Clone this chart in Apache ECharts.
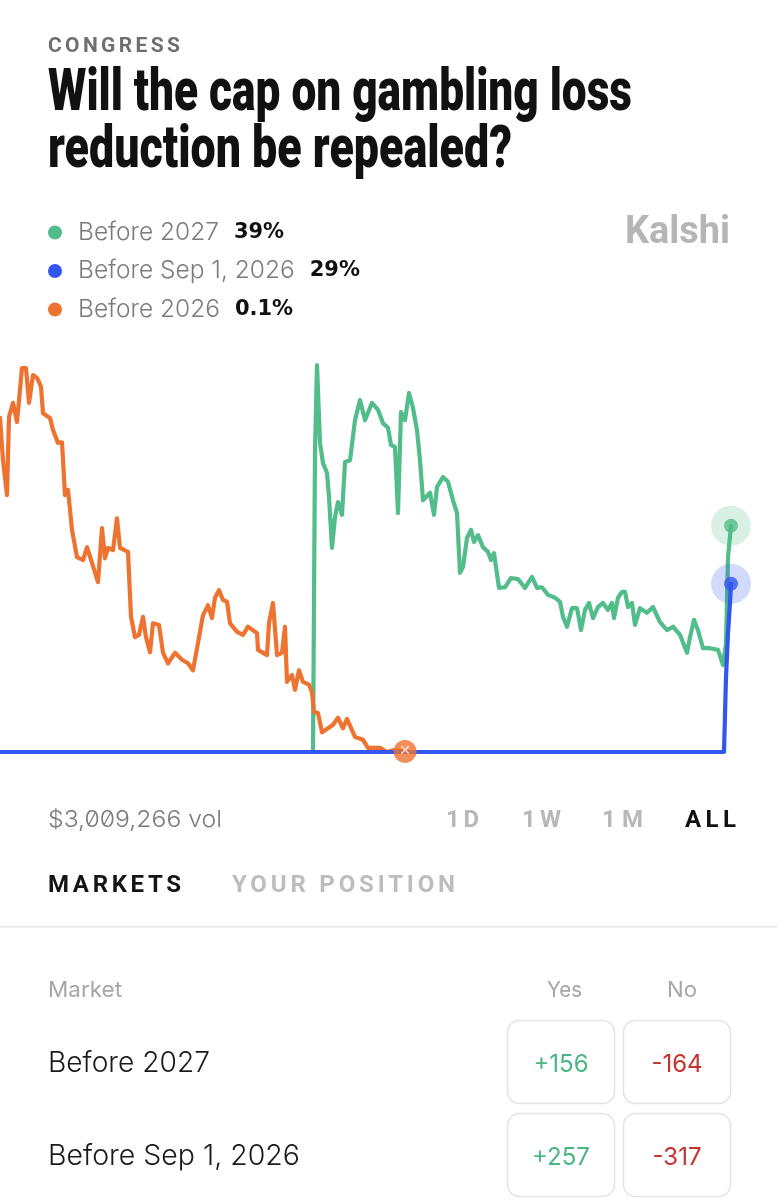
<!DOCTYPE html>
<html><head><meta charset="utf-8">
<script src="https://cdn.jsdelivr.net/npm/echarts@6/dist/echarts.min.js"></script>
<style>
html,body{margin:0;padding:0;background:#fff;}
#wrap{position:relative;width:777px;height:1200px;overflow:hidden;background:#fff;}
#chart{position:absolute;left:0;top:0;width:777px;height:1200px;}
#ui{position:absolute;left:0;top:0;pointer-events:none;}
</style></head><body>
<div id="wrap"><div id="chart"></div>
<svg id="ui" width="777" height="1200" xmlns="http://www.w3.org/2000/svg"></svg></div>
<script>
// ---------- data ----------
const seriesNames = ['Before 2027', 'Before Sep 1, 2026', 'Before 2026'];
const seriesColors = ['#52bd8a', '#3256ee', '#ef7330'];

const before2027Days = [0,313,315,317,320,323,327,329,332,335,338,342,345,350,355,360,365,372,378,383,388,391,395,398,401,405,409,413,417,420,423,430,434,437,443,448,453,457,460,463,467,471,474,478,483,488,491,494,499,505,511,518,525,532,537,542,548,555,560,563,567,572,577,581,585,589,593,598,603,608,612,614,618,622,625,628,632,635,640,647,653,660,667,673,680,687,690,694,698,703,710,718,723,726,728,731];
const before2027Prices = [0,0,52,66.7,53.3,49.8,48.1,44,35.2,40.5,43.1,40.9,50,50.3,57.2,60.7,57.2,60.2,59,56.7,55.9,52.9,52.6,41.2,58.6,57.2,61.9,59.3,55.5,50.3,43.4,44.7,40.9,45.7,47.4,46.6,43.4,41.2,30.9,31.9,36.9,38.3,36.2,37.4,35.3,34.5,33.1,34.3,28.3,28.4,30,29.8,28.3,30.2,28.3,28.4,27.1,26.6,25.9,23.3,21.6,24.8,24.8,21,24.5,25.7,23.1,25,25.7,24.5,25.7,23.1,26.6,27.6,27.6,25,25.7,21.9,24.8,24,25,22.4,21,21.6,20.2,17.1,19.8,22.8,21,17.9,17.9,17.6,15,18.8,33.6,39];

const beforeSep2026Days = [0,724,726,728,730,731];
const beforeSep2026Prices = [0,0,12.9,20.5,25.7,29];

const before2026Days = [0,3,7,9,13,17,22,26,29,33,37,41,43,50,53,58,62,65,68,72,77,83,87,92,98,102,105,108,113,117,120,128,131,135,139,143,146,150,153,159,163,168,175,182,188,193,198,203,208,212,215,219,223,227,230,237,243,248,257,258,267,269,273,277,282,285,287,292,295,299,303,309,312,314,318,322,328,333,338,343,347,355,363,368,380,387,393,405];
const before2026Prices = [57.6,50.3,44.3,57.8,60.2,56.9,66.2,66.2,60.2,65,64.5,63,58.4,57.6,55.5,53.3,53.4,44.3,45.2,38.3,33.6,33.1,35.3,32.6,29.3,38.6,33.4,35.2,34.8,40.3,35.2,34.5,23.3,19.8,20.2,23.3,19.8,17.2,22.2,21.9,17.1,15.3,17.1,15.9,15.3,14.1,18.8,23.6,25.3,23.1,26.6,27.9,26.2,25.9,22.2,20.7,20.2,21.6,20.5,17.6,16.7,22.2,25.7,16.7,17.1,21.6,12.1,13.3,10.7,14.1,12.1,11.6,10.3,6.9,6.7,3.4,4.1,4.7,5.9,4.1,5.7,2.6,2.1,0.7,0.7,0,0.3,0.1];

const volumeText = '$3,009,266 vol';
const rangeButtons = ['1D', '1W', '1M', 'ALL'];
const marketRows = ['Before 2027', 'Before Sep 1, 2026'];
const yesPayouts = ['+156', '+257'];
const noPayouts = ['-164', '-317'];

// ---------- chart ----------
const pairs = (d, v) => d.map((x, i) => [x, v[i]]);
const last = a => a[a.length - 1];
const allDays = [before2027Days, beforeSep2026Days, before2026Days];
const allPrices = [before2027Prices, beforeSep2026Prices, before2026Prices];
const lastPrice = {};
seriesNames.forEach((n, i) => lastPrice[n] = last(allPrices[i]));

const chart = echarts.init(document.getElementById('chart'), null, {renderer: 'canvas', width: 777, height: 1200});

const lineSeries = (i, z) => ({
  name: seriesNames[i], type: 'line', data: pairs(allDays[i], allPrices[i]),
  showSymbol: false, symbol: 'none', clip: false, z: z, silent: true,
  lineStyle: {width: 4.2, color: seriesColors[i], cap: 'round', join: 'round'},
  itemStyle: {color: seriesColors[i]}
});

const option = {
  animation: false,
  backgroundColor: '#ffffff',
  color: seriesColors,
  grid: {left: 0, right: 46, top: 346, height: 406},
  xAxis: {type: 'value', min: 0, max: 731, show: false},
  yAxis: {type: 'value', min: 0, max: 70, show: false},
  legend: {
    data: seriesNames, orient: 'vertical', left: 48, top: 220, padding: 0,
    icon: 'circle', itemWidth: 14, itemHeight: 14, itemGap: 13.5, selectedMode: false,
    formatter: name => `{n|${name}}{v|${lastPrice[name]}%}`,
    textStyle: {rich: {
      n: {fontFamily: 'Inter', fontWeight: 300, fontSize: 24.5, color: '#7b7b7b', lineHeight: 26, padding: [0, 0, 0, 11]},
      v: {fontFamily: 'DejaVu Sans', fontWeight: 'bold', fontSize: 21, color: '#111', lineHeight: 26, padding: [0, 0, 0, 15]}
    }}
  },
  series: [
    lineSeries(0, 2),
    lineSeries(2, 3),
    lineSeries(1, 4),
    {
      name: 'halo', type: 'scatter', z: 5, silent: true, symbolSize: 40,
      data: [0, 1].map(i => ({value: [last(allDays[i]), last(allPrices[i])], itemStyle: {color: seriesColors[i], opacity: 0.22}}))
    },
    {
      name: 'end', type: 'scatter', z: 6, silent: true, symbolSize: 14,
      data: [0, 1].map(i => ({value: [last(allDays[i]), last(allPrices[i])], itemStyle: {color: seriesColors[i]}}))
    },
    {
      name: 'settled', type: 'scatter', z: 6, silent: true, symbolSize: 23,
      data: [{value: [last(before2026Days), last(before2026Prices)], itemStyle: {color: seriesColors[2]}}],
      label: {show: true, position: 'inside', formatter: '✕', color: '#fff', fontSize: 14, fontFamily: 'DejaVu Sans'}
    }
  ]
};
chart.setOption(option);

// ---------- page chrome (SVG text) ----------
const svg = document.getElementById('ui');
const NS = 'http://www.w3.org/2000/svg';
function txt(s, a, style) {
  const t = document.createElementNS(NS, 'text');
  for (const k in a) t.setAttribute(k, a[k]);
  if (style) t.setAttribute('style', style);
  t.textContent = s; svg.appendChild(t); return t;
}
function rect(a) {
  const r = document.createElementNS(NS, 'rect');
  for (const k in a) r.setAttribute(k, a[k]);
  svg.appendChild(r);
}
const SG = 'spacingAndGlyphs';
txt('CONGRESS', {x: 48, y: 52, 'font-family': 'Roboto', 'font-weight': 700, 'font-size': 21, fill: '#6f6f6f', textLength: 132, lengthAdjust: 'spacing'});
txt('Will the cap on gambling loss', {x: 48, y: 110, 'font-family': 'Roboto', 'font-weight': 900, 'font-size': 59, fill: '#111', textLength: 584, lengthAdjust: SG});
txt('reduction be repealed?', {x: 48, y: 167, 'font-family': 'Roboto', 'font-weight': 900, 'font-size': 59, fill: '#111', textLength: 464, lengthAdjust: SG});
txt('Kalshi', {x: 625, y: 243, 'font-family': 'Roboto', 'font-weight': 700, 'font-size': 38, fill: '#b5b5b5', textLength: 105, lengthAdjust: SG});

txt(volumeText, {x: 48, y: 827, 'font-family': 'Inter', 'font-weight': 300, 'font-size': 23, fill: '#7a7a7a', textLength: 174, lengthAdjust: SG}, "font-feature-settings:'zero'");
const btnX = [446, 522, 602, 685], btnW = [33, 39, 41, 51];
rangeButtons.forEach((b, i) => txt(b, {x: btnX[i], y: 827, 'font-family': 'Roboto', 'font-weight': 700, 'font-size': 24, fill: i === 3 ? '#111' : '#b8b8b8', textLength: btnW[i], lengthAdjust: 'spacing'}));

txt('MARKETS', {x: 48, y: 892, 'font-family': 'Roboto', 'font-weight': 700, 'font-size': 24, fill: '#151515', textLength: 133, lengthAdjust: 'spacing'});
txt('YOUR POSITION', {x: 232, y: 892, 'font-family': 'Roboto', 'font-weight': 700, 'font-size': 24, fill: '#bdbdbd', textLength: 223, lengthAdjust: 'spacing'});
rect({x: 0, y: 926, width: 777, height: 1.5, fill: '#e6e6e6'});

txt('Market', {x: 48, y: 997, 'font-family': 'Inter', 'font-weight': 400, 'font-size': 22, fill: '#a6a6a6', textLength: 74, lengthAdjust: SG});
txt('Yes', {x: 547, y: 997, 'font-family': 'Inter', 'font-weight': 400, 'font-size': 22, fill: '#a6a6a6', textLength: 35, lengthAdjust: SG});
txt('No', {x: 667, y: 997, 'font-family': 'Inter', 'font-weight': 400, 'font-size': 22, fill: '#a6a6a6', textLength: 30, lengthAdjust: SG});

const rowLen = [162, 252];
marketRows.forEach((m, i) => {
  const base = 1072 + i * 93, top = 1020 + i * 93;
  txt(m, {x: 48, y: base, 'font-family': 'Inter', 'font-weight': 300, 'font-size': 28, fill: '#1a1a1a', textLength: rowLen[i], lengthAdjust: SG});
  rect({x: 507.5, y: top + 0.5, width: 107, height: 83, rx: 12, fill: 'none', stroke: '#e3e3e3', 'stroke-width': 1.5});
  rect({x: 623.5, y: top + 0.5, width: 107, height: 83, rx: 12, fill: 'none', stroke: '#e3e3e3', 'stroke-width': 1.5});
  txt(yesPayouts[i], {x: 561, y: base, 'text-anchor': 'middle', 'font-family': 'Inter', 'font-weight': 400, 'font-size': 24, fill: '#4bb583'});
  txt(noPayouts[i], {x: 677, y: base, 'text-anchor': 'middle', 'font-family': 'Inter', 'font-weight': 400, 'font-size': 24, fill: '#c8322c'});
});
</script>
</body></html>
